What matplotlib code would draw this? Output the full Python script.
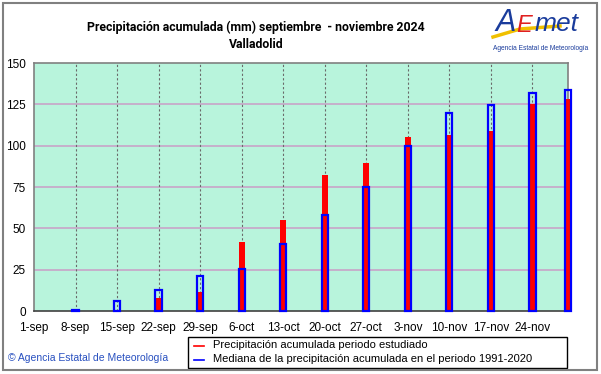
import matplotlib.pyplot as plt
import numpy as np
from matplotlib.lines import Line2D
from matplotlib.patches import Rectangle

plt.rcParams['font.family'] = ['Liberation Sans', 'DejaVu Sans']

# dias desde el 1 de septiembre
tick_dias = [0, 7, 14, 21, 28, 35, 42, 49, 56, 63, 70, 77, 84]
tick_labels = ['1-sep', '8-sep', '15-sep', '22-sep', '29-sep', '6-oct', '13-oct',
               '20-oct', '27-oct', '3-nov', '10-nov', '17-nov', '24-nov']
bar_dias = [7, 14, 21, 28, 35, 42, 49, 56, 63, 70, 77, 84, 90]
prec_obs = [0, 0, 8.1, 11.4, 42.0, 55.2, 82.2, 89.3, 105.1, 106.3, 108.8, 125.2, 128.2]
prec_med = [0.5, 5.9, 13.0, 21.3, 25.6, 40.6, 58.2, 75.0, 100.0, 119.5, 124.8, 131.7, 133.9]
y_ticks = [0, 25, 50, 75, 100, 125, 150]

fig = plt.figure(figsize=(6.01, 3.74), dpi=100)
ax = fig.add_axes([34/601, 1-311/374, (568-34)/601, (311-63)/374])
ax.set_facecolor('#b8f4dc')

ax.bar(bar_dias, prec_obs, width=1.06, color='#ff0000', linewidth=0, zorder=3, clip_on=False)
ax.bar(bar_dias, prec_med, width=1.06, facecolor='none', edgecolor='#0000ff',
       linewidth=1.6, zorder=4, clip_on=False)

ax.set_xlim(0, 90)
ax.set_ylim(0, 150)
ax.set_xticks(tick_dias)
ax.set_xticklabels(tick_labels, fontsize=8.5)
ax.set_yticks(y_ticks)
ax.set_yticklabels([str(v) for v in y_ticks], fontsize=8.5)
ax.tick_params(length=0, pad=6)
ax.tick_params(axis='x', pad=8)

for v in y_ticks[1:-1]:
    ax.axhline(v, color='#c8a4c8', lw=1.2, zorder=1)
for d in tick_dias[1:]:
    ax.axvline(d, color='#6a6a6a', lw=0.8, ls=(0, (2, 2)), zorder=2)

for s in ax.spines.values():
    s.set_color('#808080')
    s.set_linewidth(1.2)
ax.spines['bottom'].set_color('#404040')

fig.text(256/601, 1-27/374, 'Precipitación acumulada (mm) septiembre  - noviembre 2024',
         ha='center', va='center', fontsize=8.8, fontweight='bold', family='Roboto')
fig.text(256/601, 1-44/374, 'Valladolid', ha='center', va='center',
         fontsize=8.8, fontweight='bold', family='Roboto')

# logo
fig.text(495/601, 1-23/374, 'A', color='#1a3c9c', fontsize=22, style='italic',
         ha='left', va='center')
fig.text(516/601, 1-26/374, 'E', color='#e02020', fontsize=17, style='italic',
         ha='left', va='center')
fig.text(535/601, 1-24/374, 'met', color='#1a3c9c', fontsize=19, style='italic',
         ha='left', va='center')
fig.add_artist(Line2D([493/601, 520/601, 560/601], [1-37/374, 1-29/374, 1-26/374],
                      color='#f0c000', lw=2.5))
fig.text(541/601, 1-48/374, 'Agencia Estatal de Meteorología', color='#1a3c9c',
         fontsize=4.8, ha='center', va='center')

fig.text(8/601, 1-358/374, '© Agencia Estatal de Meteorología', color='#2850c0',
         fontsize=7.5, ha='left', va='center')

# leyenda
fig.add_artist(Rectangle((188/601, 1-368/374), (567-188)/601, (368-337)/374,
                         transform=fig.transFigure, facecolor='white',
                         edgecolor='black', lw=1.0))
leg_items = [('#ff0000', 'Precipitación acumulada periodo estudiado', 345.5),
             ('#0000ff', 'Mediana de la precipitación acumulada en el periodo 1991-2020', 359.5)]
for col, txt, yy in leg_items:
    fig.add_artist(Line2D([194/601, 204/601], [1-yy/374, 1-yy/374], color=col, lw=1.2))
    fig.text(213/601, 1-yy/374, txt, fontsize=8, ha='left', va='center')

fig.add_artist(Rectangle((3/601, 4/374), 594/601, 367/374, transform=fig.transFigure,
                         fill=False, edgecolor='#808080', lw=1.5))

fig.savefig('out.png', dpi=100)
